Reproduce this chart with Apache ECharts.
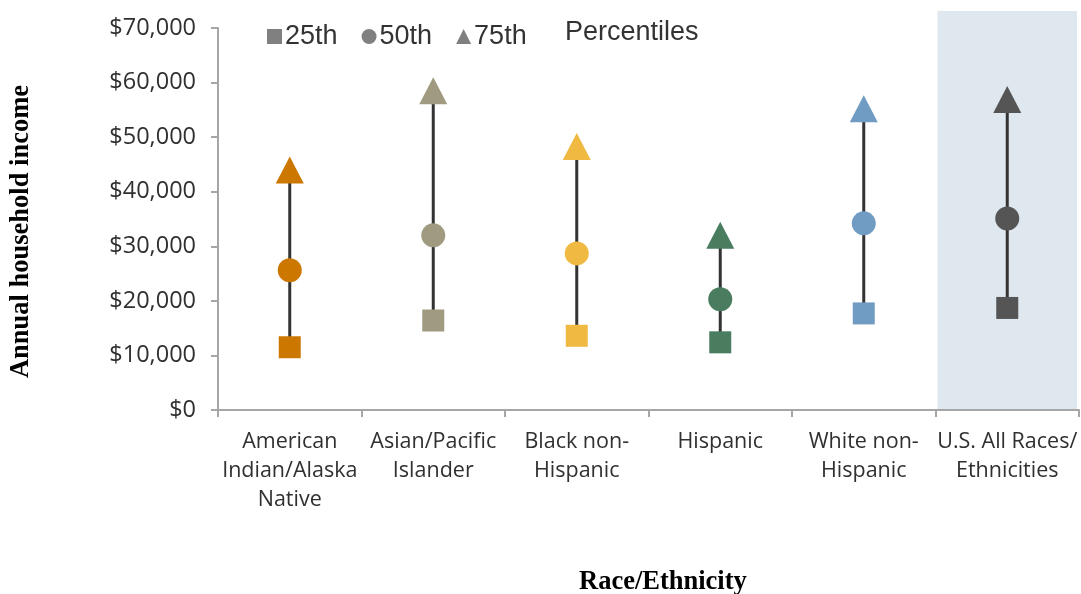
<!DOCTYPE html>
<html>
<head>
<meta charset="utf-8">
<title>Annual household income percentiles by race/ethnicity</title>
<script src="https://cdn.jsdelivr.net/npm/echarts@6/dist/echarts.min.js"></script>
<style>
  html, body { margin: 0; padding: 0; background: #ffffff; }
  #chart { width: 1081px; height: 594px; }
</style>
</head>
<body>
<div id="chart"></div>
<script>
// Categories along the x axis
const categories = [
  'American\nIndian/Alaska\nNative',
  'Asian/Pacific\nIslander',
  'Black non-\nHispanic',
  'Hispanic',
  'White non-\nHispanic',
  'U.S. All Races/\nEthnicities'
];

// Household income percentiles (USD)
const p25 = [11500, 16400, 13600, 12400, 17700, 18700];
const p50 = [25600, 32000, 28700, 20300, 34200, 35100];
const p75 = [44000, 58500, 48300, 32000, 55200, 56900];

// Marker colour for each category
const groupColors = ['#cc7700', '#9f9a80', '#f0b941', '#4a7d60', '#709cc3', '#555555'];

// Y axis range
const yMin = 0;
const yMax = 70000;
const yStep = 10000;

// Index of the highlighted (national total) category
const highlightIndex = 5;

const legendGray = '#808080';
const axisGray = '#a6a6a6';

function pointData(values) {
  return values.map((v, i) => ({
    value: [i, v],
    itemStyle: { color: groupColors[i], opacity: 1 }
  }));
}

const chart = echarts.init(document.getElementById('chart'));

chart.setOption({
  animation: false,
  backgroundColor: '#ffffff',
  grid: { left: 218, right: 2, top: 28, bottom: 184, containLabel: false },
  legend: {
    left: 262,
    top: 18,
    itemWidth: 15,
    itemHeight: 15,
    itemGap: 24,
    textStyle: { fontFamily: 'Liberation Sans', fontSize: 27, color: '#333333', padding: [0, 0, 0, -2] },
    data: [
      { name: '25th', icon: 'rect' },
      { name: '50th', icon: 'circle' },
      { name: '75th', icon: 'triangle' }
    ]
  },
  graphic: [
    {
      type: 'text',
      left: 565,
      top: 19,
      style: { text: 'Percentiles', fontFamily: 'Liberation Sans', fontSize: 27, fill: '#333333' }
    },
    {
      type: 'text',
      left: 8,
      top: 85,
      rotation: Math.PI / 2,
      originX: 0, originY: 0,
      style: {
        text: 'Annual household income',
        fontFamily: 'Liberation Serif', fontWeight: 'bold', fontSize: 26.5, fill: '#000000'
      }
    },
    {
      type: 'text',
      left: 579,
      top: 569,
      style: {
        text: 'Race/Ethnicity',
        fontFamily: 'Liberation Serif', fontWeight: 'bold', fontSize: 26.5, fill: '#000000'
      }
    }
  ],
  xAxis: {
    type: 'category',
    data: categories,
    boundaryGap: true,
    axisLine: { show: true, lineStyle: { color: axisGray, width: 2 } },
    axisTick: { show: true, alignWithLabel: false, interval: 0, length: 7, lineStyle: { color: axisGray, width: 2 } },
    axisLabel: {
      interval: 0,
      margin: 17,
      fontFamily: 'Open Sans',
      fontSize: 21.5,
      lineHeight: 29,
      color: '#303030'
    },
    splitLine: { show: false }
  },
  yAxis: {
    type: 'value',
    min: yMin,
    max: yMax,
    interval: yStep,
    axisLine: { show: true, lineStyle: { color: axisGray, width: 2 } },
    axisTick: { show: true, inside: false, length: 7, lineStyle: { color: axisGray, width: 2 } },
    axisLabel: {
      margin: 22,
      fontFamily: 'Open Sans',
      fontSize: 23.5,
      color: '#303030',
      formatter: v => '$' + v.toLocaleString('en-US')
    },
    splitLine: { show: false }
  },
  series: [
    {
      // Shaded band behind the national total
      type: 'custom',
      silent: true,
      z: 0,
      clip: false,
      data: [[highlightIndex]],
      renderItem: (params, api) => {
        const center = api.coord([api.value(0), yMin]);
        const top = api.coord([api.value(0), yMax]);
        const w = api.size([1, 0])[0];
        return {
          type: 'rect',
          shape: { x: center[0] - w / 2 + 2, y: top[1] - 17, width: w - 4, height: center[1] - top[1] + 17 },
          style: { fill: '#dfe7ef' }
        };
      }
    },
    {
      // Vertical range line from the 25th to the 75th percentile
      type: 'custom',
      silent: true,
      z: 1,
      data: categories.map((c, i) => [i, p25[i], p75[i]]),
      renderItem: (params, api) => {
        const lo = api.coord([api.value(0), api.value(1)]);
        const hi = api.coord([api.value(0), api.value(2)]);
        return {
          type: 'line',
          shape: { x1: lo[0], y1: lo[1], x2: hi[0], y2: hi[1] },
          style: { stroke: '#333333', lineWidth: 3 }
        };
      }
    },
    {
      name: '25th',
      type: 'scatter',
      z: 3,
      symbol: 'rect',
      symbolSize: 22,
      itemStyle: { color: legendGray, opacity: 1 },
      data: pointData(p25)
    },
    {
      name: '50th',
      type: 'scatter',
      z: 3,
      symbol: 'circle',
      symbolSize: 24,
      itemStyle: { color: legendGray, opacity: 1 },
      data: pointData(p50)
    },
    {
      name: '75th',
      type: 'scatter',
      z: 3,
      symbol: 'triangle',
      symbolSize: [28, 27],
      itemStyle: { color: legendGray, opacity: 1 },
      data: pointData(p75)
    }
  ]
});
</script>
</body>
</html>
